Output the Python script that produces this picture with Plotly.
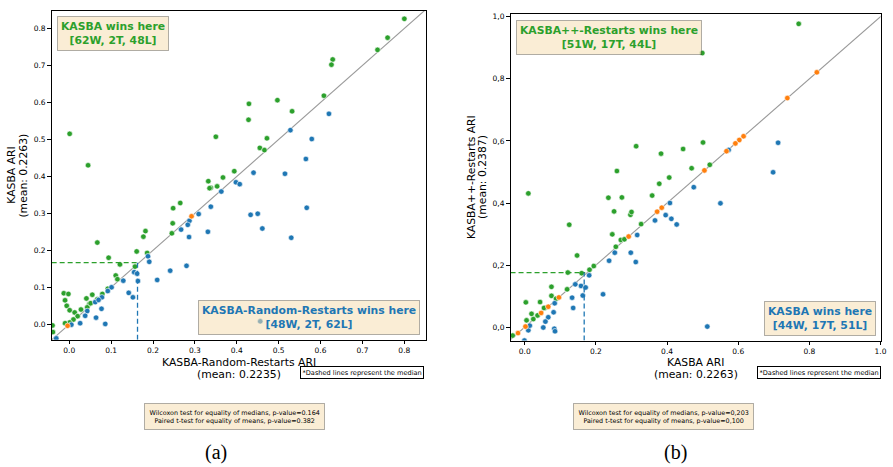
import plotly.graph_objects as go

# ---------------- Panel (a): x = KASBA-Random-Restarts ARI, y = KASBA ARI
a_green_x = [0.800, 0.760, 0.736, 0.629, 0.626, 0.608, 0.497, 0.429, 0.428, 0.532, 0.472, 0.455, 0.466,
             0.001, 0.045, 0.350, 0.394, 0.332, 0.338, 0.353, 0.367, 0.248, 0.265, 0.247, 0.245, 0.182,
             0.177, 0.186, 0.161, 0.067, 0.094, 0.121, 0.157, 0.111, 0.115, 0.092, 0.079, 0.055, 0.041,
             0.067, 0.048, 0.043, -0.013, -0.002, -0.010, -0.006, 0.001, 0.013, 0.020, 0.010, 0.001,
             -0.010, -0.039, -0.040, 0.335, 0.051, 0.028]
a_green_y = [0.826, 0.775, 0.742, 0.716, 0.702, 0.618, 0.606, 0.596, 0.553, 0.576, 0.503, 0.477, 0.471,
             0.515, 0.430, 0.507, 0.414, 0.387, 0.369, 0.373, 0.397, 0.314, 0.328, 0.273, 0.246, 0.252,
             0.237, 0.193, 0.197, 0.221, 0.180, 0.162, 0.156, 0.132, 0.122, 0.096, 0.082, 0.080, 0.070,
             0.068, 0.055, 0.046, 0.084, 0.082, 0.065, 0.050, 0.038, 0.032, 0.022, 0.013, 0.005,
             0.003, -0.021, -0.003, 0.368, 0.057, 0.040]
a_blue_x = [0.620, 0.528, 0.579, 0.565, 0.515, 0.440, 0.398, 0.407, 0.363, 0.338, 0.309, 0.287, 0.283,
            0.267, 0.286, 0.331, 0.433, 0.450, 0.461, 0.567, 0.530, 0.188, 0.191, 0.280, 0.241, 0.210,
            0.155, 0.162, 0.164, 0.129, 0.142, 0.152, 0.101, 0.092, 0.078, 0.077, 0.064, 0.086, 0.043,
            0.038, 0.026, 0.062, -0.031, 0.005, 0.456, 0.070]
a_blue_y = [0.569, 0.525, 0.501, 0.447, 0.407, 0.410, 0.384, 0.379, 0.359, 0.318, 0.298, 0.280, 0.269,
            0.256, 0.236, 0.250, 0.296, 0.299, 0.259, 0.315, 0.234, 0.184, 0.169, 0.158, 0.145, 0.120,
            0.141, 0.137, 0.117, 0.118, 0.085, 0.073, 0.100, 0.090, 0.073, 0.042, 0.018, 0.001, 0.036,
            0.023, 0.003, 0.060, -0.038, -0.001, 0.008, 0.066]
a_tie_x = [-0.004, 0.292]
a_tie_y = [-0.004, 0.292]
a_median = [0.163, 0.167]  # median x, median y

# ---------------- Panel (b): x = KASBA ARI, y = KASBA++-Restarts ARI
b_green_x = [0.770, 0.499, 0.501, 0.313, 0.445, 0.383, 0.469, 0.259, 0.520, 0.406, 0.378, 0.358, 0.010,
             0.235, 0.273, 0.251, 0.297, 0.300, 0.327, 0.246, 0.270, 0.280, 0.256, 0.125, 0.147, 0.194,
             0.182, 0.160, 0.121, 0.119, 0.075, 0.075, 0.043, 0.003, 0.057, 0.088, 0.019, 0.036, 0.024,
             0.005, -0.034, 0.054]
b_green_y = [0.977, 0.883, 0.595, 0.583, 0.574, 0.559, 0.512, 0.503, 0.523, 0.482, 0.462, 0.424, 0.431,
             0.417, 0.418, 0.373, 0.362, 0.371, 0.332, 0.299, 0.281, 0.283, 0.259, 0.330, 0.231, 0.197,
             0.185, 0.174, 0.176, 0.122, 0.130, 0.101, 0.081, 0.080, 0.063, 0.092, 0.043, 0.038, 0.026,
             0.022, -0.027, 0.062]
b_blue_x = [0.573, 0.712, 0.698, 0.475, 0.550, 0.408, 0.396, 0.412, 0.427, 0.366, 0.316, 0.253, 0.298,
            0.312, 0.237, 0.181, 0.220, 0.142, 0.158, 0.171, 0.163, 0.133, 0.136, 0.084, 0.081, 0.066,
            0.058, 0.052, 0.083, 0.085, 0.010, 0.513, -0.001, 0.014]
b_blue_y = [0.571, 0.594, 0.499, 0.451, 0.399, 0.400, 0.361, 0.349, 0.331, 0.344, 0.297, 0.240, 0.240,
            0.210, 0.214, 0.167, 0.106, 0.138, 0.133, 0.128, 0.102, 0.095, 0.062, 0.077, 0.048, 0.032,
            0.018, -0.001, -0.005, -0.013, -0.010, 0.002, -0.043, 0.005]
b_tie_x = [0.821, 0.738, 0.615, 0.603, 0.592, 0.567, 0.505, 0.385, 0.372, 0.292, 0.096, 0.066, 0.046,
           0.002, -0.019]
b_tie_y = [0.821, 0.738, 0.615, 0.603, 0.592, 0.567, 0.505, 0.385, 0.372, 0.292, 0.096, 0.066, 0.046,
           0.002, -0.019]
b_median = [0.167, 0.176]

a_ticks = [0.0, 0.1, 0.2, 0.3, 0.4, 0.5, 0.6, 0.7, 0.8]
a_ticktext = ["0.0", "0.1", "0.2", "0.3", "0.4", "0.5", "0.6", "0.7", "0.8"]
b_ticks = [0.0, 0.2, 0.4, 0.6, 0.8, 1.0]
b_xticktext = ["0.0", "0.2", "0.4", "0.6", "0.8", "1.0"]
b_yticktext = ["0,0", "0,2", "0,4", "0,6", "0,8", "1,0"]

a_range_x = [-0.042, 0.852]
a_range_y = [-0.042, 0.848]
b_range_x = [-0.040, 1.0]
b_range_y = [-0.043, 1.008]

GREEN = "#2ca02c"
BLUE = "#1f77b4"
ORANGE = "#ff7f0e"
W, H = 893, 467
FONT = "DejaVu Sans"


def px(x):
    return x / W


def py(y):
    return 1 - y / H


fig = go.Figure()


def scatter(xs, ys, color, xa, ya):
    fig.add_trace(go.Scatter(x=xs, y=ys, mode="markers", xaxis=xa, yaxis=ya, showlegend=False,
                             marker=dict(color=color, size=5.5, line=dict(color="white", width=0.6))))


def panel(xa, ya, rx, ry, gx, gy, bx, by, tx, ty, med):
    lo = min(rx[0], ry[0]) - 0.01
    hi = max(rx[1], ry[1]) + 0.01
    fig.add_trace(go.Scatter(x=[lo, hi], y=[lo, hi], mode="lines", xaxis=xa, yaxis=ya, showlegend=False,
                             line=dict(color="#9a9a9a", width=1.1)))
    scatter(gx, gy, GREEN, xa, ya)
    scatter(bx, by, BLUE, xa, ya)
    scatter(tx, ty, ORANGE, xa, ya)
    fig.add_trace(go.Scatter(x=[rx[0], med[0] + 0.003], y=[med[1], med[1]], mode="lines", xaxis=xa, yaxis=ya,
                             showlegend=False, line=dict(color=GREEN, width=1.3, dash="5px,3px")))
    fig.add_trace(go.Scatter(x=[med[0], med[0]], y=[ry[0], med[1]], mode="lines", xaxis=xa, yaxis=ya,
                             showlegend=False, line=dict(color=BLUE, width=1.3, dash="5px,3px")))


panel("x", "y", a_range_x, a_range_y, a_green_x, a_green_y, a_blue_x, a_blue_y, a_tie_x, a_tie_y, a_median)
panel("x2", "y2", b_range_x, b_range_y, b_green_x, b_green_y, b_blue_x, b_blue_y, b_tie_x, b_tie_y, b_median)

axis_common = dict(showline=True, linecolor="black", linewidth=1, mirror=True, ticks="outside",
                   ticklen=3.5, tickwidth=0.9, tickcolor="black", showgrid=False, zeroline=False,
                   tickfont=dict(family=FONT, size=7.5, color="black"))

fig.update_layout(
    width=W, height=H, margin=dict(l=0, r=0, t=0, b=0),
    paper_bgcolor="white", plot_bgcolor="white",
    xaxis=dict(domain=[px(52), px(429)], range=a_range_x, tickvals=a_ticks, ticktext=a_ticktext,
               anchor="y", **axis_common),
    yaxis=dict(domain=[py(339.3), py(8.7)], range=a_range_y, tickvals=a_ticks, ticktext=a_ticktext,
               anchor="x", **axis_common),
    xaxis2=dict(domain=[px(514), px(886.5)], range=b_range_x, tickvals=b_ticks, ticktext=b_xticktext,
                anchor="y2", **axis_common),
    yaxis2=dict(domain=[py(340), py(12.3)], range=b_range_y, tickvals=b_ticks, ticktext=b_yticktext,
                anchor="x2", **axis_common),
)

ann = []


def text(x, y, s, size, color="black", angle=0, family=FONT, xanchor="center", yanchor="middle"):
    ann.append(dict(x=px(x), y=py(y), xref="paper", yref="paper", text=s, showarrow=False,
                    font=dict(family=family, size=size, color=color), textangle=angle,
                    xanchor=xanchor, yanchor=yanchor))


def box(x, y, s, size, color, xanchor, yanchor, bg, border, pad=3, bw=1):
    ann.append(dict(x=px(x), y=py(y), xref="paper", yref="paper", text=s, showarrow=False, align="center",
                    font=dict(family=FONT, size=size, color=color), xanchor=xanchor, yanchor=yanchor,
                    bgcolor=bg, bordercolor=border, borderwidth=bw, borderpad=pad))


WHEAT = "rgba(245,222,179,0.55)"
WBORDER = "rgba(0,0,0,0.3)"

# axis titles
text(240.5, 362, "KASBA-Random-Restarts ARI", 10.8)
text(240.5, 374, "(mean: 0.2235)", 10.8)
text(11.5, 174, "KASBA ARI", 10.8, angle=-90)
text(23.5, 174, "(mean: 0.2263)", 10.8, angle=-90)
text(700.5, 362, "KASBA ARI", 10.8)
text(700.5, 374, "(mean: 0.2263)", 10.8)
text(474, 176, "KASBA++-Restarts ARI", 10.8, angle=-90)
text(486, 176, "(mean: 0.2387)", 10.8, angle=-90)

# win boxes
box(57, 14, "<b>KASBA wins here<br>[62W, 2T, 48L]</b>", 10.8, GREEN, "left", "top", WHEAT, WBORDER)
box(423, 334, "<b>KASBA-Random-Restarts wins here<br>[48W, 2T, 62L]</b>", 10.8, BLUE, "right", "bottom",
    WHEAT, WBORDER)
box(519, 18, "<b>KASBA++-Restarts wins here<br>[51W, 17T, 44L]</b>", 10.8, GREEN, "left", "top", WHEAT, WBORDER)
box(882, 335, "<b>KASBA wins here<br>[44W, 17T, 51L]</b>", 10.8, BLUE, "right", "bottom", WHEAT, WBORDER)

# median notes
box(364, 372, "*Dashed lines represent the median", 6.6, "black", "center", "middle", "white", "black",
    pad=1.5, bw=1)
box(825, 372, "*Dashed lines represent the median", 6.6, "black", "center", "middle", "white", "black",
    pad=1.5, bw=1)

# stats boxes
box(236.5, 416.5, "Wilcoxon test for equality of medians, p-value=0.164<br>"
    "Paired t-test for equality of means, p-value=0.382", 6.4, "black", "center", "middle", WHEAT, WBORDER,
    pad=4.5)
box(668, 416.5, "Wilcoxon test for equality of medians, p-value=0,203<br>"
    "Paired t-test for equality of means, p-value=0,100", 6.4, "black", "center", "middle", WHEAT, WBORDER,
    pad=4.5)

text(217, 452, "(a)", 20, family="Liberation Serif")
text(680, 452, "(b)", 20, family="Liberation Serif")

fig.update_layout(annotations=ann)
fig.write_html("out.html")
